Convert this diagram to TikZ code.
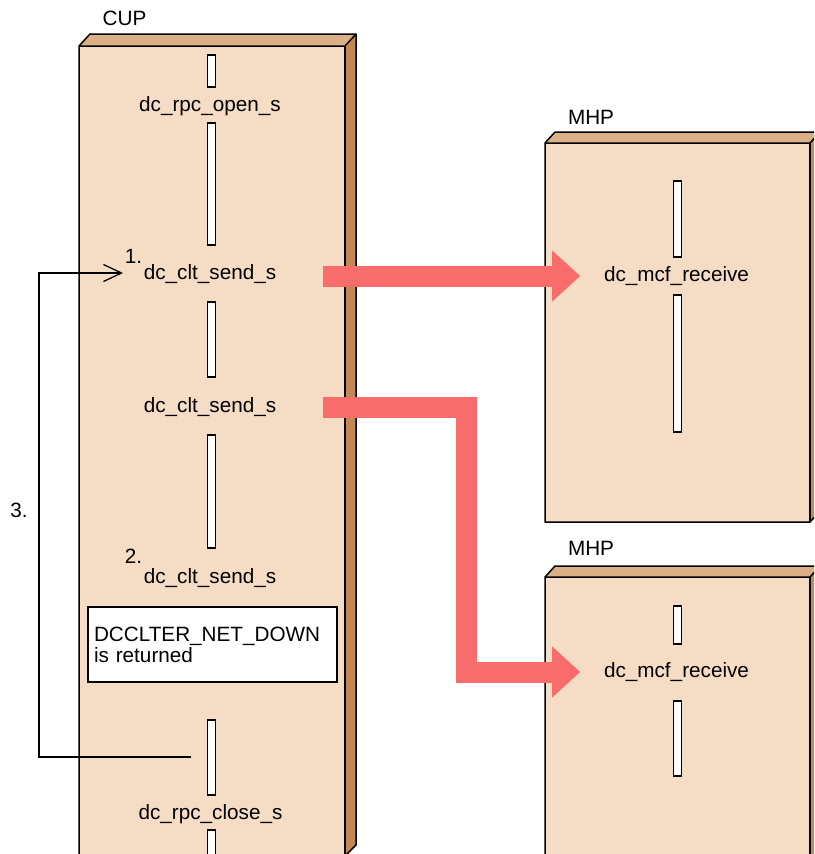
\documentclass[tikz,border=0pt]{standalone}
\usepackage{fontspec}
\setmainfont{Liberation Sans}
\usetikzlibrary{arrows.meta}
\definecolor{face}{RGB}{245,220,197}
\definecolor{topf}{RGB}{220,176,135}
\definecolor{side}{RGB}{196,136,84}
\definecolor{flow}{RGB}{248,108,108}
\begin{document}
\begin{tikzpicture}[x=1pt,y=-1pt,
  lbl/.style={font=\fontsize{20.7}{21}\selectfont, inner sep=0pt, anchor=base},
  bar/.style={draw=black, fill=white, line width=1.3pt, minimum width=8pt, inner sep=0pt},
  outl/.style={draw=black, line width=1.5pt, line join=round},
  flowarrow/.style={draw=flow, line width=21pt, line join=miter, line cap=butt,
    -{Triangle[length=28pt,width=51pt,line width=0.01pt]}},
  loopline/.style={draw=black, line width=1.3pt,
    -{Straight Barb[length=18pt,width=17pt,line width=1.3pt]}}]
\useasboundingbox (0,0) rectangle (814,854);
\clip (0,0) rectangle (814,854);
% CUP block
\fill[face] (79,46) rectangle (345,860);
\fill[topf] (79,46) -- (90,34) -- (356,34) -- (345,46) -- cycle;
\fill[side] (345,46) -- (356,34) -- (356,845) -- (345,856) -- cycle;
\draw[outl] (79,860) -- (79,46) -- (90,34) -- (356,34) -- (356,845) -- (345,856);
\draw[outl] (79,46) -- (345,46) -- (356,34);
\draw[outl] (345,46) -- (345,860);
% MHP block 1
\fill[face] (545,143) rectangle (810,522);
\fill[topf] (545,143) -- (555,132) -- (820,132) -- (810,143) -- cycle;
\fill[side] (810,143) -- (820,132) -- (820,511) -- (810,522) -- cycle;
\draw[outl] (545,143) -- (555,132) -- (820,132) -- (820,511) -- (810,522) -- (545,522) -- cycle;
\draw[outl] (545,143) -- (810,143) -- (820,132);
\draw[outl] (810,143) -- (810,522);
% MHP block 2
\fill[face] (545,577) rectangle (810,870);
\fill[topf] (545,577) -- (555,566) -- (820,566) -- (810,577) -- cycle;
\fill[side] (810,577) -- (820,566) -- (820,870) -- (810,870) -- cycle;
\draw[outl] (545,870) -- (545,577) -- (555,566) -- (820,566) -- (820,870);
\draw[outl] (545,577) -- (810,577) -- (820,566);
\draw[outl] (810,577) -- (810,870);
% labels
\node[lbl] (cup) at (124.5,25) {CUP};
\node[lbl] (mhp1) at (591,124) {MHP};
\node[lbl] (mhp2) at (591,555) {MHP};
% CUP bars and texts
\node[bar, minimum height=32pt] (b1) at (211.5,71) {};
\node[lbl] (open) at (210,111) {dc\_rpc\_open\_s};
\node[bar, minimum height=122pt] (b2) at (211.5,184) {};
\node[lbl] (send1) at (210,279) {dc\_clt\_send\_s};
\node[lbl] (n1) at (133.5,263) {1.};
\node[bar, minimum height=75pt] (b3) at (211.5,339.5) {};
\node[lbl] (send2) at (210,412) {dc\_clt\_send\_s};
\node[bar, minimum height=113pt] (b4) at (211.5,491.5) {};
\node[lbl] (n2) at (133.5,563) {2.};
\node[lbl] (send3) at (210,583) {dc\_clt\_send\_s};
\node[draw=black, fill=white, line width=1.3pt, minimum width=249pt, minimum height=75pt,
  inner xsep=6pt, inner ysep=0pt, text width=237pt, align=left,
  font=\fontsize{20.7}{21}\selectfont] (ret) at (212.5,644.5) {DCCLTER\_NET\_DOWN\\is returned};
\node[bar, minimum height=75pt] (b5) at (211.5,757.5) {};
\node[lbl] (close) at (210.5,819) {dc\_rpc\_close\_s};
\node[bar, minimum height=40pt] (b6) at (211.5,850) {};
\node[lbl] (n3) at (19,517) {3.};
% MHP bars and texts
\node[bar, minimum height=76pt] (m1a) at (677.5,219) {};
\node[lbl] (recv1) at (676.5,281) {dc\_mcf\_receive};
\node[bar, minimum height=137pt] (m1b) at (677.5,363.5) {};
\node[bar, minimum height=38pt] (m2a) at (677.5,625) {};
\node[lbl] (recv2) at (676.5,677) {dc\_mcf\_receive};
\node[bar, minimum height=75pt] (m2b) at (677.5,738.5) {};
% flow arrows
\coordinate (f1s) at (323,276);
\coordinate (f1e) at (580,276);
\coordinate (f2s) at (323,407);
\coordinate (f2e) at (580,672);
\draw[flowarrow] (f1s) -- (f1e);
\draw[flowarrow] (f2s) -- (466,407) -- (466,672) -- (f2e);
% retry loop
\coordinate (lps) at (191,757);
\coordinate (lpe) at (123,273);
\draw[loopline] (lps) -- (39,757) -- (39,273) -- (lpe);
\end{tikzpicture}
\end{document}
